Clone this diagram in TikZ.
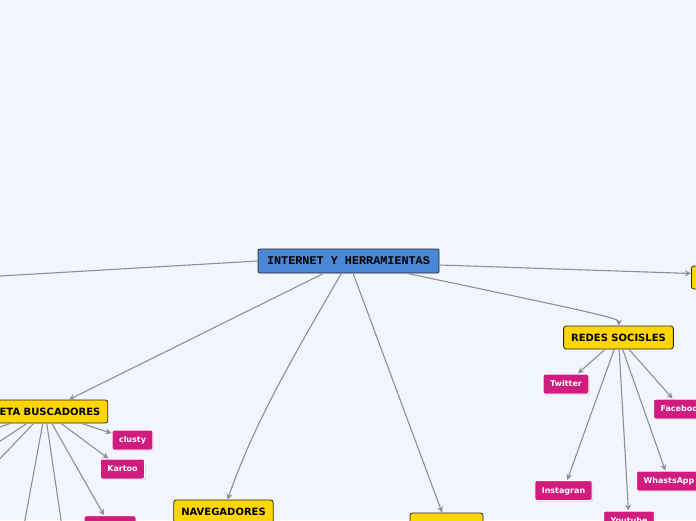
\documentclass[tikz,border=0pt]{standalone}
\usepackage{fontspec}
\setmainfont{DejaVu Sans}
\newfontfamily\rootfont{Liberation Mono}
\usepackage{tikz}
\usetikzlibrary{arrows.meta,positioning,shadows}

\definecolor{mapbg}{HTML}{F2F5FD}
\definecolor{rootblue}{HTML}{4A87D5}
\definecolor{topicgold}{HTML}{FFD600}
\definecolor{leafpink}{HTML}{CF1C7E}
\definecolor{linkgrey}{HTML}{8E8E96}

\begin{document}
\begin{tikzpicture}[x=1pt,y=-1pt,
  rootbox/.style={draw=black!85,fill=rootblue,rounded corners=2pt,line width=0.8pt,
    minimum width=181pt,minimum height=24pt,inner sep=0pt,
    font=\rootfont\bfseries\fontsize{11.8}{12}\selectfont},
  topicbox/.style={draw=black!85,fill=topicgold,rounded corners=2.5pt,line width=0.8pt,
    minimum height=23pt,inner xsep=7.5pt,inner ysep=0pt,text height=7.3pt,text depth=0pt,
    font=\bfseries\fontsize{10}{12}\selectfont},
  leafbox/.style={draw=white,fill=leafpink,text=white,rounded corners=2pt,line width=1pt,
    minimum height=20pt,inner xsep=7pt,inner ysep=0pt,text height=5.9pt,text depth=0pt,
    font=\bfseries\fontsize{8}{10}\selectfont,
    drop shadow={shadow xshift=1pt,shadow yshift=-1.2pt,opacity=0.3}},
  link/.style={draw=linkgrey,line width=1.1pt},
  linkarr/.style={link,-{Stealth[length=6pt,width=6pt,inset=2pt]}}]

\useasboundingbox (0,0) rectangle (696,520);
\fill[mapbg] (0,0) rectangle (696,520);

% central topic and main branches
\node[rootbox] (root) at (348.5,261) {INTERNET Y HERRAMIENTAS};
\node[topicbox,minimum width=80pt,anchor=west] (hidright) at (691,277.5) {};
\node[topicbox] (redes) at (618.5,337.5) {REDES SOCISLES};
\node[topicbox] (meta) at (45,411.5) {META BUSCADORES};
\node[topicbox] (nav) at (223.5,511.5) {NAVEGADORES};
\node[topicbox,minimum width=73pt] (hidbottom) at (446.5,524.5) {};
\coordinate (offleft) at (-60,279.5);

% social networks
\node[leafbox] (twitter) at (566,384) {Twitter};
\node[leafbox,anchor=west] (facebook) at (653,409) {Facebook};
\node[leafbox] (instagram) at (563.5,490.5) {Instagran};
\node[leafbox,anchor=west] (whatsapp) at (636,481) {WhastsApp};
\node[leafbox] (youtube) at (629,521) {Youtube};

% meta search engines
\node[leafbox] (clusty) at (132.5,440) {clusty};
\node[leafbox] (kartoo) at (122.5,469) {Kartoo};
\node[leafbox,minimum width=52pt] (hidleaf) at (110,525.7) {};
\coordinate (offa) at (-20,433.9);
\coordinate (offb) at (-20,454.4);
\coordinate (offc) at (-20,479.6);
\coordinate (offd) at (21.3,540);
\coordinate (offe) at (64,540);

\draw[link] (root.west) -- (offleft);
\draw[linkarr] ([yshift=-4pt]root.east) -- ([yshift=4pt]hidright.west);
\draw[linkarr] (root) .. controls (590,312) and (619,318) .. (redes);
\draw[linkarr] (root) -- (meta);
\draw[linkarr] (root) .. controls (300,345) and (255,420) .. (nav);
\draw[linkarr] (root) -- (hidbottom);

\foreach \leaf in {twitter,facebook,instagram,whatsapp,youtube}
  \draw[linkarr] (redes) -- (\leaf);

\foreach \leaf in {clusty,kartoo,hidleaf}
  \draw[linkarr] (meta) -- (\leaf);
\foreach \off in {offa,offb,offc,offd,offe}
  \draw[link] (meta) -- (\off);
\end{tikzpicture}
\end{document}
